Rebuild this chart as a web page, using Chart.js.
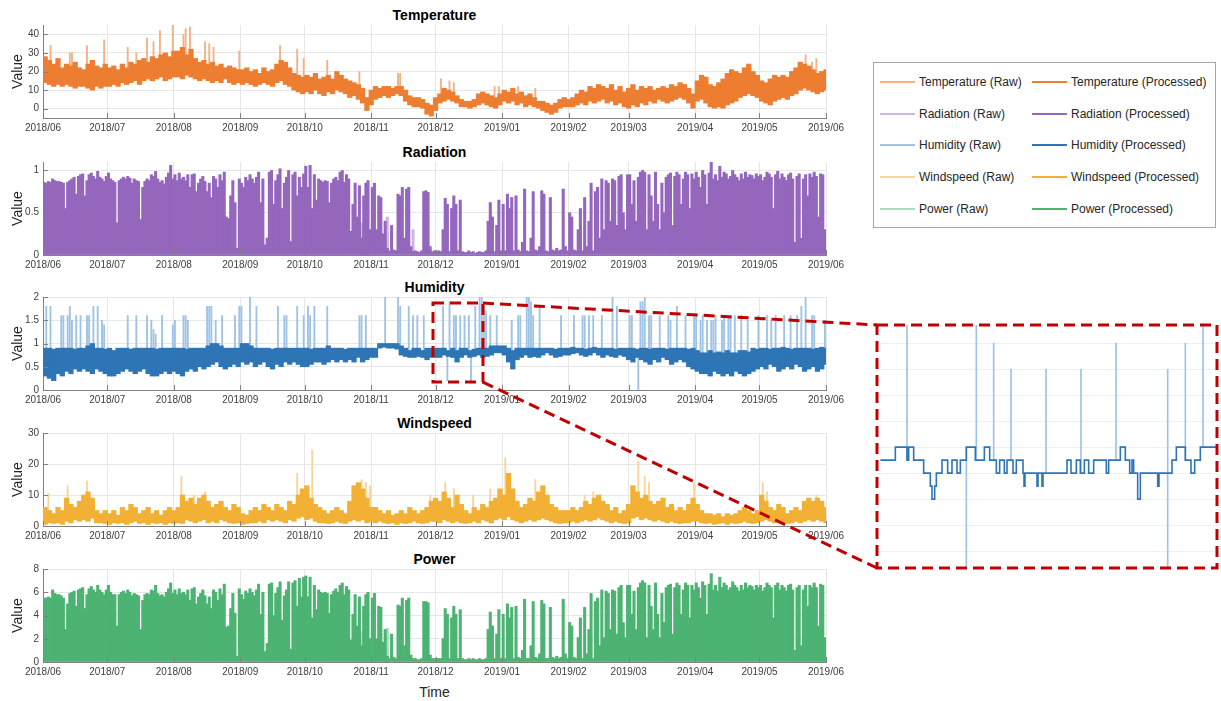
<!DOCTYPE html>
<html>
<head>
<meta charset="utf-8">
<title>Weather and power series 2018/06 - 2019/06</title>
<script src="https://cdn.jsdelivr.net/npm/chart.js@4.4.1/dist/chart.umd.min.js"></script>
<style>
  html, body { margin: 0; padding: 0; background: #fff; }
  body { font-family: Arial, "Liberation Sans", sans-serif; }
  #page { position: relative; width: 1221px; height: 701px; overflow: hidden; }
  .panel { position: absolute; left: 0; width: 850px; height: 125px; }
  .ptitle { position: absolute; left: 43px; width: 783px; text-align: center; font-weight: bold; font-size: 14px; line-height: 16px; color: #000; }
  #time-label { position: absolute; left: 43px; width: 783px; top: 684px; text-align: center; font-size: 14px; line-height: 16px; color: #262626; }
  #legend { position: absolute; left: 873px; top: 62px; width: 341px; height: 164px; border: 1px solid #a6a6a6; background: #fff; }
  .leg { position: absolute; height: 14px; font-size: 12px; line-height: 14px; color: #262626; white-space: nowrap; }
  .leg i { position: absolute; left: 0; width: 35px; }
  .leg span { position: absolute; left: 39px; top: 0; }
  #inset { position: absolute; left: 877px; top: 325px; width: 340px; height: 243px; }
  #overlay { position: absolute; left: 0; top: 0; pointer-events: none; }
</style>
</head>
<body>
<div id="page">
  <div class="ptitle" style="top:7px">Temperature</div>
  <div class="ptitle" style="top:144px">Radiation</div>
  <div class="ptitle" style="top:279px">Humidity</div>
  <div class="ptitle" style="top:415px">Windspeed</div>
  <div class="ptitle" style="top:551px">Power</div>

  <div class="panel" id="pTemp" style="top:15px"><canvas id="cTemp"></canvas></div>
  <div class="panel" id="pRad" style="top:152px"><canvas id="cRad"></canvas></div>
  <div class="panel" id="pHum" style="top:287px"><canvas id="cHum"></canvas></div>
  <div class="panel" id="pWind" style="top:423px"><canvas id="cWind"></canvas></div>
  <div class="panel" id="pPow" style="top:559px"><canvas id="cPow"></canvas></div>
  <div id="time-label">Time</div>

  <div id="legend"></div>
  <div id="inset"><canvas id="cInset"></canvas></div>
  <svg id="overlay" width="1221" height="701"></svg>
</div>

<script>
// x axis: days since 2018/06/01, one tick per month
const monthDays = [0, 30, 61, 92, 122, 153, 183, 214, 245, 273, 304, 334, 365];
const monthLabels = ['2018/06', '2018/07', '2018/08', '2018/09', '2018/10', '2018/11', '2018/12',
                     '2019/01', '2019/02', '2019/03', '2019/04', '2019/05', '2019/06'];

const seriesNames = ['Temperature', 'Radiation', 'Humidity', 'Windspeed', 'Power'];
const procColors = ['#ed7d31', '#9467bd', '#2e75b6', '#f2b134', '#4cb373'];
const rawColors = ['#f4b183', '#cdb6e3', '#9dc3e6', '#fad497', '#a9dcbc'];

// temperature, two-day bands (low / high)
const tempLow = [
  14,13,12,13,12,13,12,11,12,12,11,10,12,11,12,
  12,13,12,14,13,14,15,13,15,16,15,16,17,15,16,17,
  17,16,18,17,16,15,16,15,14,15,14,16,14,13,14,
  13,14,13,12,13,14,13,12,14,15,13,12,10,9,8,
  9,8,10,8,7,9,8,10,9,8,6,7,5,3,-1,2,
  5,6,7,6,7,8,7,4,2,1,1,0,-3,-4,-1,
  3,4,5,4,3,1,1,0,1,2,3,2,1,0,2,
  4,3,4,2,3,1,2,1,0,-1,-2,-3,-2,0,1,
  1,1,2,3,2,4,3,4,5,3,4,2,3,1,
  0,2,1,3,2,4,3,5,4,3,4,5,6,5,3,0,
  4,5,3,1,0,1,0,2,3,4,6,7,8,7,6,
  4,3,2,4,5,6,5,7,8,10,11,10,9,8,9,10
];
const tempHigh = [
  28,26,24,27,22,24,23,25,22,21,24,26,23,22,24,
  22,23,21,24,22,25,24,26,27,25,28,27,29,30,28,31,
  31,33,29,32,27,25,26,24,25,23,24,22,23,22,21,
  21,22,20,21,19,22,20,21,24,26,25,22,19,18,17,
  18,17,19,16,17,18,16,20,18,16,15,14,13,11,6,10,
  12,11,12,12,11,12,12,10,7,6,6,5,3,2,6,
  8,11,10,9,7,5,4,4,5,8,9,8,7,6,8,
  10,9,11,8,9,7,8,6,4,4,3,2,3,5,6,
  5,6,8,10,9,12,11,13,12,11,13,10,12,9,
  11,13,10,12,11,12,10,11,12,11,13,12,14,13,11,8,
  15,18,17,13,12,14,16,19,21,20,19,22,24,20,18,
  15,14,16,18,17,18,17,20,22,25,24,23,21,19,20,21
];
const tempSpikeDays = [3,12,13,20,28,39,43,48,51,54,60,65,66,68,75,77,79,91,110,118,121,132,147,165,166,185,189,191,210,212,218,221,229,355,358,360];
const tempSpikeVals = [34,30,30,34,37,33,30,38,36,42,45,40,43,44,36,35,33,31,34,32,27,26,20,19,19,16,15,14,12,12,11,12,11,29,25,27];

// radiation, daily peak
const radDaily = [
  0.86,0.85,0.87,0.86,0.9,0.88,0.87,0.87,0.86,0.85,0.55,0.86,0.88,0.9,0.92,0.72,0.93,0.95,0.96,0.7,0.88,0.95,0.97,0.93,0.9,0.99,0.92,0.9,0.87,0.93,
  0.97,0.9,0.88,0.86,0.38,0.88,0.9,0.92,0.9,0.93,0.91,0.85,0.9,0.88,0.87,0.42,0.8,0.87,0.9,0.88,0.95,0.93,0.99,0.9,0.86,0.88,0.84,0.92,0.97,1.06,0.9,
  0.95,0.88,0.97,0.9,0.92,0.88,0.95,0.8,0.95,0.96,0.75,0.85,0.9,0.93,0.87,0.75,0.85,0.68,0.93,0.9,0.8,0.95,0.88,0.98,0.45,0.43,0.7,0.88,0.62,0.08,0.9,
  0.85,0.8,0.92,0.88,0.95,0.9,0.85,0.92,0.98,0.62,0.9,0.12,0.2,0.98,1.0,0.6,0.88,0.95,1.02,0.55,0.85,0.92,1.0,0.16,0.95,0.98,0.7,0.92,0.8,0.96,
  1.05,0.8,1.06,0.55,0.95,0.65,0.9,0.88,0.86,0.88,0.87,0.62,0.85,0.9,0.92,0.88,0.98,1.0,0.86,0.95,0.9,0.28,0.6,0.85,0.45,0.82,0.2,0.7,0.85,0.88,0.3,
  0.8,0.85,0.3,0.7,0.68,0.25,0.4,0.08,0.05,0.35,0.06,0.05,0.72,0.7,0.8,0.2,0.78,0.8,0.1,0.04,0.05,0.04,0.03,0.05,0.75,0.76,0.74,0.1,0.04,0.05,
  0.04,0.05,0.04,0.3,0.67,0.6,0.04,0.55,0.7,0.6,0.05,0.65,0.04,0.03,0.03,0.05,0.03,0.04,0.02,0.03,0.04,0.03,0.03,0.05,0.4,0.62,0.45,0.04,0.35,0.65,0.05,
  0.6,0.05,0.72,0.55,0.68,0.05,0.7,0.06,0.04,0.15,0.78,0.05,0.04,0.2,0.75,0.06,0.05,0.1,0.76,0.72,0.05,0.04,0.68,0.06,0.05,0.08,0.05,0.06,0.78,0.1,0.05,
  0.5,0.45,0.06,0.05,0.3,0.55,0.05,0.68,0.1,0.4,0.85,0.05,0.75,0.8,0.2,0.9,0.3,0.88,0.85,0.4,0.9,0.88,0.35,0.93,0.95,0.5,0.3,0.95,
  0.95,0.6,0.88,0.4,0.92,0.98,1.0,0.98,0.3,0.95,0.7,0.4,0.98,0.6,0.3,0.85,0.5,0.92,0.95,0.97,0.35,0.93,0.98,0.95,0.6,0.9,0.98,0.95,0.55,0.96,0.9,
  0.98,0.92,0.8,1.0,0.95,0.6,0.97,1.1,0.9,0.95,0.88,1.05,0.92,0.98,0.96,0.9,0.93,1.0,0.95,0.92,0.88,0.96,0.9,0.98,0.92,0.95,0.94,0.9,0.96,0.93,
  0.95,0.88,0.92,0.98,0.96,0.92,0.55,0.95,0.99,0.9,0.96,0.92,0.88,0.95,0.97,0.9,0.15,0.93,0.96,0.2,0.9,0.95,0.7,0.96,0.92,0.98,0.93,0.45,0.96,0.95,0.3
];
const radRawDays = [148,150,151,160,172,250,268,292];
const radRawVals = [0.38,0.35,0.3,0.45,0.3,0.3,0.32,0.45];

// humidity, two-day bands plus raw outliers
const humLow = [
  0.3,0.25,0.2,0.35,0.3,0.4,0.35,0.45,0.4,0.45,0.4,0.35,0.45,0.4,0.35,
  0.3,0.3,0.35,0.4,0.45,0.4,0.35,0.4,0.45,0.35,0.3,0.3,0.35,0.4,0.35,0.4,
  0.35,0.3,0.4,0.45,0.4,0.5,0.45,0.5,0.55,0.6,0.5,0.45,0.5,0.55,0.5,
  0.6,0.55,0.6,0.5,0.55,0.6,0.5,0.45,0.55,0.5,0.6,0.55,0.6,0.55,0.5,
  0.5,0.55,0.6,0.6,0.55,0.6,0.65,0.6,0.65,0.6,0.65,0.6,0.7,0.6,0.65,0.7,
  0.7,0.9,0.92,0.9,0.9,0.88,0.75,0.72,0.7,0.7,0.72,0.7,0.65,0.7,0.7,
  0.7,0.75,0.72,0.7,0.6,0.7,0.75,0.7,0.72,0.75,0.7,0.72,0.75,0.8,0.8,
  0.75,0.6,0.45,0.65,0.7,0.75,0.7,0.72,0.7,0.75,0.8,0.75,0.7,0.72,0.75,
  0.75,0.78,0.8,0.75,0.72,0.75,0.8,0.75,0.7,0.75,0.72,0.7,0.75,0.72,
  0.65,0.6,0.7,0.65,0.6,0.55,0.65,0.6,0.7,0.65,0.55,0.6,0.65,0.6,0.5,0.45,
  0.4,0.35,0.35,0.3,0.4,0.35,0.3,0.35,0.3,0.4,0.35,0.3,0.35,0.4,0.45,
  0.5,0.45,0.55,0.5,0.4,0.45,0.5,0.45,0.55,0.5,0.4,0.45,0.5,0.4,0.45,0.55
];
const humHigh = [
  0.9,0.9,0.88,0.9,0.9,0.9,0.9,0.88,0.9,0.9,0.95,1.0,0.9,0.9,0.88,
  0.9,0.85,0.9,0.9,0.9,0.88,0.9,0.9,0.9,0.9,0.9,0.88,0.9,0.9,0.9,0.9,
  0.9,0.9,0.88,0.9,0.9,0.9,0.9,0.95,1.0,1.0,0.95,0.9,0.9,0.9,0.9,
  1.0,1.0,0.95,0.9,0.9,0.9,0.9,0.88,0.9,0.9,0.9,0.9,0.9,0.9,0.9,
  0.9,0.88,0.9,0.9,0.9,0.95,0.9,0.9,0.9,0.88,0.9,0.9,0.9,0.9,0.9,0.9,
  0.9,1.0,1.0,1.0,1.0,1.0,0.95,0.9,0.85,0.9,0.9,0.85,0.9,0.9,0.9,
  0.9,0.9,0.85,0.9,0.85,0.9,0.9,0.85,0.88,0.9,0.9,0.9,0.95,0.95,0.95,
  0.95,0.9,0.85,0.9,0.9,0.9,0.9,0.9,0.9,0.9,0.9,0.9,0.88,0.9,0.9,
  0.9,0.92,0.9,0.9,0.88,0.9,0.92,0.9,0.9,0.9,0.9,0.88,0.9,0.9,
  0.9,0.9,0.88,0.9,0.9,0.88,0.9,0.9,0.9,0.88,0.9,0.9,0.9,0.9,0.88,0.9,
  0.85,0.8,0.8,0.85,0.8,0.82,0.8,0.85,0.8,0.8,0.85,0.85,0.82,0.9,0.88,
  0.9,0.9,0.88,0.9,0.9,0.92,0.9,0.88,0.9,0.9,0.9,0.9,0.88,0.9,0.92,0.9
];
const humSpikeDays = [1,3,8,9,11,12,13,15,17,20,21,23,25,27,28,39,43,48,50,51,52,55,60,61,65,66,67,76,77,78,80,83,89,91,92,96,99,
  109,112,113,118,121,123,124,126,132,147,148,150,159,165,166,170,172,174,177,186,188,189,191,192,194,196,198,199,201,203,204,205,206,208,211,
  218,221,222,225,226,227,228,231,241,247,251,252,254,256,260,265,267,273,274,277,278,279,280,282,283,287,291,292,295,299,
  303,304,306,307,309,311,312,313,316,317,319,320,322,325,328,333,337,339,341,345,348,351,353,355,358,359,364];
const humSpikeVals = [1.8,1.8,1.6,1.6,1.6,1.8,1.5,1.6,1.6,1.6,1.6,1.8,1.8,1.5,1.4,1.6,1.6,1.6,1.5,1.3,1.2,1.6,1.4,1.5,1.6,1.6,1.5,1.8,1.8,1.8,1.5,1.6,1.6,1.8,1.8,2.0,1.8,
  1.8,1.6,1.6,1.8,1.6,1.8,1.6,1.8,1.8,1.6,1.6,1.6,2.0,2.0,1.8,1.8,1.6,1.6,1.6,1.8,0.2,1.9,1.6,1.6,1.6,1.6,1.6,0.15,1.8,2.0,2.0,1.8,1.7,1.6,1.6,
  1.5,1.6,1.6,2.0,2.0,1.9,1.6,1.8,1.6,1.6,1.6,1.6,1.6,1.6,1.6,2.0,1.8,1.6,1.6,0.0,1.9,1.9,2.0,1.6,1.6,1.6,1.6,1.5,1.8,1.6,
  1.6,1.6,1.5,1.6,1.5,1.5,1.5,1.6,1.5,1.6,1.6,1.6,1.6,1.6,1.5,1.6,1.6,1.5,1.6,1.6,1.6,1.6,1.8,2.0,1.6,1.6,1.5];

// windspeed, two-day bands plus raw gusts
const windLow = [
  0.5,1,0.8,1,0.5,1.5,1,2,1.5,2,1.5,2.5,1,1,0.8,
  0.5,1,0.8,1,0.5,1,1.5,0.8,1,0.5,1,0.8,1,0.5,1,0.8,
  1,0.8,2,1.5,1,1.5,2,1,1.5,1,2,1.5,1,0.8,1,
  0.5,0.8,1,1,1.5,1,2,1.5,2,1.5,1,2,1.5,2.5,3,
  2,2.5,1.5,1,1,0.8,1,1.5,1,0.8,1.5,2,1.5,2,1,1.5,
  1,1.5,1,0.8,1,0.5,1,0.8,1,1.5,1,0.8,1,1.5,1.5,
  1,2,1.5,1,1.5,1,0.8,1,1.5,1,2,1.5,1,2,2.5,
  2,3,2,1.5,1,1.5,2,1.5,2,2.5,2,1.5,1,0.8,1,
  1,1.5,1,1.5,2,1.5,2,2.5,2,1.5,1,1.5,1,0.8,
  1,2.5,3,2,2.5,2,1.5,2,1.5,1,1.5,1,0.8,1,1,1.5,
  1.5,1,0.8,1,0.5,0.8,1,0.5,1,0.8,1,1.5,1,0.8,1,
  1.5,2,1.5,1,1.5,1,0.8,1,1.5,1,1.5,2,1.5,2,1.5,1
];
const windHigh = [
  6,5,4,6,5,9,7,6,8,10,11,9,5,4,5,
  4,5,3.5,6,5,7,6,4,5,6,4,5,3.5,5,6,5,
  6,10,8,9,7,9,10,8,6,7,8,6,5,7,6,
  4,3.5,5,6,5,7,6,5,7,6,5,8,7,10,12,
  13,9,7,6,5,4,5,6,5,4,8,13,14,12,9,6,
  6,5,4,5,3.5,4,5,4,6,5,4,5,6,8,9,
  8,11,9,6,10,7,5,4,6,5,7,6,8,9,12,
  10,17,12,8,6,7,9,8,11,13,10,7,6,5,5,
  5,6,5,6,8,7,9,10,8,7,5,6,4,5,
  7,13,11,9,10,8,7,8,9,6,7,5,6,5,7,9,
  7,5,4,4,3.5,4,3,4,3.5,4,5,6,5,4,5,
  10,8,6,5,7,6,4,5,6,5,8,9,8,9,8,6
];
const windSpikeDays = [2,11,20,64,70,75,118,125,148,150,152,180,187,191,200,208,215,217,229,252,256,277,280,282,303,335,337,356,360];
const windSpikeVals = [10.5,13,14.5,16,10,11,17,24.5,15,14,13,10,14,12,10,12,22,16,15,10,11,21,16,14,14,14,11,9,10];

// power, daily peak
const powDaily = [
  5.5,5.5,5.6,5.5,6.2,5.9,5.8,5.8,5.7,5.5,2.8,5.0,5.9,6.0,6.1,4.8,6.2,6.3,6.4,4.6,5.8,6.3,6.5,6.2,6.0,6.6,6.2,6.0,5.8,6.2,
  6.6,6.0,5.8,5.8,3.1,5.8,6.0,6.1,5.9,6.2,6.0,5.7,5.9,5.8,5.7,2.8,5.3,5.8,5.9,5.8,6.2,6.1,6.6,5.9,5.7,5.8,5.6,6.0,6.3,6.8,5.9,
  6.2,5.8,6.3,5.9,6.0,5.8,6.2,5.3,6.3,6.4,5.0,5.6,5.9,6.2,5.7,5.0,5.6,4.6,6.2,6.0,5.3,6.3,5.8,6.7,3.0,3.1,4.6,5.9,4.2,0.5,6.3,
  5.8,5.4,6.1,5.9,6.3,6.0,5.7,6.2,6.7,4.1,6.0,0.9,1.6,6.7,6.8,4.0,5.9,6.4,6.9,3.6,5.7,6.2,6.9,1.1,6.8,7.0,4.8,7.2,5.6,7.3,
  7.4,5.6,7.3,3.8,6.6,4.5,6.2,6.0,5.9,6.0,5.9,4.2,5.8,6.1,6.3,6.0,6.6,6.8,5.8,6.5,6.2,1.9,4.1,5.8,3.1,5.6,1.4,4.8,5.8,6.0,2.0,
  5.5,5.9,2.0,4.8,4.7,1.7,2.8,0.5,0.3,2.4,0.4,0.3,4.9,4.8,5.5,1.4,5.3,5.5,0.6,0.3,0.3,0.2,0.2,0.3,5.2,5.2,5.1,0.6,0.3,0.3,
  0.3,0.3,0.3,2.0,4.6,4.1,0.3,3.8,4.8,4.1,0.3,4.5,0.3,0.2,0.2,0.3,0.2,0.3,0.2,0.2,0.3,0.2,0.2,0.3,2.8,4.3,3.1,0.3,2.4,4.5,0.3,
  4.1,0.3,5.0,3.8,4.7,0.3,4.8,0.4,0.3,1.0,5.4,0.3,0.3,1.4,5.2,0.4,0.3,0.7,5.3,5.0,0.3,0.3,4.7,0.4,0.3,0.5,0.3,0.4,5.4,0.7,0.3,
  3.4,3.1,0.4,0.3,2.1,3.8,0.3,4.7,0.7,2.8,5.9,0.3,5.2,5.5,1.4,6.2,2.1,6.1,5.9,2.8,6.2,6.1,2.4,6.4,6.6,3.4,2.1,6.6,
  6.6,4.1,6.1,2.8,6.4,6.8,7.0,6.8,2.1,6.6,4.8,2.8,6.8,4.1,2.1,5.9,3.4,6.4,6.6,6.7,2.4,6.4,6.8,6.6,4.1,6.2,6.8,6.6,3.8,6.6,6.2,
  6.8,6.4,5.5,6.9,6.6,4.1,6.7,7.6,6.2,6.6,6.1,7.3,6.4,6.8,6.6,6.2,6.4,6.9,6.6,6.4,6.1,6.6,6.2,6.8,6.4,6.6,6.5,6.2,6.6,6.4,
  6.6,6.1,6.4,6.8,6.6,6.4,3.8,6.6,6.8,6.2,6.6,6.4,6.1,6.6,6.7,6.2,1.0,6.4,6.6,1.4,6.2,6.6,4.8,6.6,6.4,6.8,6.4,3.1,6.7,6.6,2.1
];
const powRawDays = [148,150,160,292];
const powRawVals = [2.6,2.3,2.9,2.8];

// zoomed humidity window (days / value) and its close-up
const zoomFrom = 181.8, zoomTo = 205.1, zoomLow = 0.17, zoomHigh = 1.87;
const insetStepX = [6,10.5,14,14.5,16,19,21,21.5,22.3,22.8,24.5,26.2,27.5,29,30,31.8,34.5,37.2,38.8,40.8,41.8,43.2,44,45.8,46.8,48.8,49.1,49.4,
  53,53.3,54.5,54.8,62,63.2,64.8,66,67.2,68.5,70,73.8,74.5,78,79.5,80.8,81.5,82,83.2,84,89.2,89.6,93.5,94.8,97.5,99.2,100.3,102,107];
const insetStepLevel = [0.85,0.9,0.85,0.9,0.85,0.8,0.75,0.7,0.75,0.8,0.85,0.8,0.85,0.8,0.85,0.9,0.85,0.9,0.85,0.8,0.85,0.8,0.85,0.8,0.85,0.8,0.75,0.8,
  0.75,0.8,0.75,0.8,0.85,0.8,0.85,0.8,0.85,0.8,0.85,0.8,0.85,0.9,0.85,0.8,0.85,0.8,0.7,0.8,0.75,0.8,0.85,0.9,0.85,0.8,0.85,0.9,0.9];
const insetSpikeX = [14, 31.8, 34.8, 40, 45.2, 55.7, 66.2, 76.7, 92.2, 92.2, 97.5, 102.8];
const insetSpikeVal = [1.45, 0.3, 1.45, 1.3, 1.2, 1.2, 1.2, 1.3, 1.2, 0.3, 1.3, 1.45];
const insetGrid = [0.5, 0.6, 0.7, 0.8, 0.9, 1.0, 1.1, 1.2, 1.3];

const tickFont = { family: 'Arial, "Liberation Sans", sans-serif', size: 10 };
const gridColor = '#e6e6e6';
const axisColor = '#808080';

// short tick marks pointing into the plot, like the original plotting tool
const innerTicks = {
  id: 'innerTicks',
  afterDraw(chart) {
    const { ctx, chartArea: a, scales } = chart;
    ctx.save();
    ctx.strokeStyle = axisColor;
    ctx.lineWidth = 1;
    ctx.beginPath();
    scales.y.ticks.forEach(t => {
      const y = Math.round(scales.y.getPixelForValue(t.value)) + 0.5;
      ctx.moveTo(a.left, y);
      ctx.lineTo(a.left + 5, y);
    });
    scales.x.ticks.forEach(t => {
      const x = Math.round(scales.x.getPixelForValue(t.value)) + 0.5;
      ctx.moveTo(x, a.bottom);
      ctx.lineTo(x, a.bottom - 5);
    });
    ctx.stroke();
    ctx.restore();
  }
};

function timeAxis() {
  return {
    type: 'linear', min: 0, max: 365, offset: false,
    afterBuildTicks: s => { s.ticks = monthDays.map(v => ({ value: v })); },
    afterFit: s => { s.height = 22; },
    ticks: { autoSkip: false, maxRotation: 0, padding: 4, color: '#404040', font: tickFont,
             callback: (v, i) => monthLabels[i] },
    grid: { color: gridColor, drawTicks: false, offset: false },
    border: { color: axisColor }
  };
}

function valueAxis(min, max, ticks) {
  return {
    min, max,
    afterBuildTicks: s => { s.ticks = ticks.map(v => ({ value: v })); },
    afterFit: s => { s.width = 43; },
    ticks: { padding: 4, color: '#404040', font: tickFont, callback: v => String(v) },
    grid: { color: gridColor, drawTicks: false },
    border: { color: axisColor },
    title: { display: true, text: 'Value', color: '#262626',
             font: { family: 'Arial, "Liberation Sans", sans-serif', size: 14 }, padding: { top: 10, bottom: 0 } }
  };
}

const bandData = (low, high) => low.map((lo, i) => ({ x: i * 2 + 1, y: [lo, high[i]] }));
const dayData = vals => vals.map((v, i) => ({ x: i + 0.5, y: v }));

// raw outliers leave the processed band either above its top or below its bottom
function spikeData(days, vals, low, high) {
  return days.map((d, k) => {
    const i = Math.min(Math.floor(d / 2), high.length - 1);
    const v = vals[k];
    return { x: d + 0.5, y: v >= high[i] ? [high[i], v] : [v, low[i]] };
  });
}
const rawDayData = (days, vals) => days.map((d, k) => ({ x: d + 0.5, y: [0, vals[k]] }));

function bars(data, color, thickness) {
  return { data, backgroundColor: color, borderWidth: 0, barThickness: thickness, grouped: false };
}

function panel(id, min, max, ticks, datasets) {
  return new Chart(document.getElementById(id), {
    type: 'bar',
    data: { datasets },
    options: {
      responsive: true, maintainAspectRatio: false, animation: false,
      layout: { padding: { top: 10, right: 24, left: 0, bottom: 0 } },
      plugins: { legend: { display: false }, tooltip: { enabled: false } },
      scales: { x: timeAxis(), y: valueAxis(min, max, ticks) }
    },
    plugins: [innerTicks]
  });
}

// the first dataset is painted last, so processed series go first
panel('cTemp', -5, 45, [0, 10, 20, 30, 40], [
  bars(bandData(tempLow, tempHigh), procColors[0], 4.6),
  bars(spikeData(tempSpikeDays, tempSpikeVals, tempLow, tempHigh), rawColors[0], 1.2)
]);
panel('cRad', 0, 1.1, [0, 0.5, 1], [
  bars(dayData(radDaily), procColors[1], 2.4),
  bars(rawDayData(radRawDays, radRawVals), rawColors[1], 2.4)
]);
const humChart = panel('cHum', 0, 2, [0, 0.5, 1, 1.5, 2], [
  bars(bandData(humLow, humHigh), procColors[2], 4.6),
  bars(spikeData(humSpikeDays, humSpikeVals, humLow, humHigh), rawColors[2], 1.2)
]);
panel('cWind', 0, 30, [0, 10, 20, 30], [
  bars(bandData(windLow, windHigh), procColors[3], 4.6),
  bars(spikeData(windSpikeDays, windSpikeVals, windLow, windHigh), rawColors[3], 1.2)
]);
panel('cPow', 0, 8, [0, 2, 4, 6, 8], [
  bars(dayData(powDaily), procColors[4], 2.4),
  bars(rawDayData(powRawDays, powRawVals), rawColors[4], 2.4)
]);

// close-up of the humidity window
function levelAt(x) {
  let lv = insetStepLevel[0];
  insetStepX.forEach((sx, i) => { if (sx <= x) lv = insetStepLevel[i]; });
  return lv;
}
const insetChart = new Chart(document.getElementById('cInset'), {
  type: 'line',
  data: {
    datasets: [
      { type: 'line', data: insetStepX.map((x, i) => ({ x, y: insetStepLevel[i] })), stepped: true,
        borderColor: procColors[2], borderWidth: 1.6, pointRadius: 0 },
      { type: 'bar', data: insetSpikeX.map((x, i) => {
          const lv = levelAt(x), v = insetSpikeVal[i];
          return { x, y: v > lv ? [lv, v] : [v, lv] };
        }), backgroundColor: rawColors[2], borderWidth: 0, barThickness: 1, grouped: false }
    ]
  },
  options: {
    responsive: true, maintainAspectRatio: false, animation: false,
    layout: { padding: 0 },
    plugins: { legend: { display: false }, tooltip: { enabled: false } },
    scales: {
      x: { type: 'linear', min: 5, max: 107, display: false, offset: false },
      y: { min: 0.435, max: 1.37,
           afterBuildTicks: s => { s.ticks = insetGrid.map(v => ({ value: v })); },
           afterFit: s => { s.width = 0; },
           ticks: { display: false }, border: { display: false },
           grid: { color: '#edf1f6', drawTicks: false } }
    }
  }
});

// legend: raw on the left, processed on the right
const legendBox = document.getElementById('legend');
seriesNames.forEach((name, r) => {
  const top = Math.round(12 + r * 31.7);
  [[6, rawColors[r], 6, 2, ' (Raw)'], [158, procColors[r], 6, 2, ' (Processed)']].forEach(([left, color, lt, w, tag]) => {
    const item = document.createElement('div');
    item.className = 'leg';
    item.style.left = left + 'px';
    item.style.top = top + 'px';
    item.innerHTML = `<i style="top:${lt}px;height:${w}px;background:${color}"></i><span>${name}${tag}</span>`;
    legendBox.appendChild(item);
  });
});

// dashed zoom frame, its enlarged copy and the two connectors
function drawZoomGuides() {
  const svg = document.getElementById('overlay');
  const hp = document.getElementById('pHum');
  const hx = humChart.scales.x, hy = humChart.scales.y;
  const x1 = hp.offsetLeft + hx.getPixelForValue(zoomFrom);
  const x2 = hp.offsetLeft + hx.getPixelForValue(zoomTo);
  const y1 = hp.offsetTop + hy.getPixelForValue(zoomHigh);
  const y2 = hp.offsetTop + hy.getPixelForValue(zoomLow);
  const ip = document.getElementById('inset');
  const a = insetChart.chartArea;
  const bx1 = ip.offsetLeft + a.left, bx2 = ip.offsetLeft + a.right;
  const by1 = ip.offsetTop + a.top, by2 = ip.offsetTop + a.bottom;
  const st = 'fill="none" stroke="#c00000" stroke-width="3" stroke-dasharray="11 6"';
  svg.innerHTML =
    `<rect x="${x1}" y="${y1}" width="${x2 - x1}" height="${y2 - y1}" ${st}/>` +
    `<rect x="${bx1}" y="${by1}" width="${bx2 - bx1}" height="${by2 - by1}" ${st}/>` +
    `<line x1="${x2}" y1="${y1}" x2="${bx1}" y2="${by1}" ${st}/>` +
    `<line x1="${x2}" y1="${y2}" x2="${bx1}" y2="${by2}" ${st}/>`;
}
drawZoomGuides();
</script>
</body>
</html>
